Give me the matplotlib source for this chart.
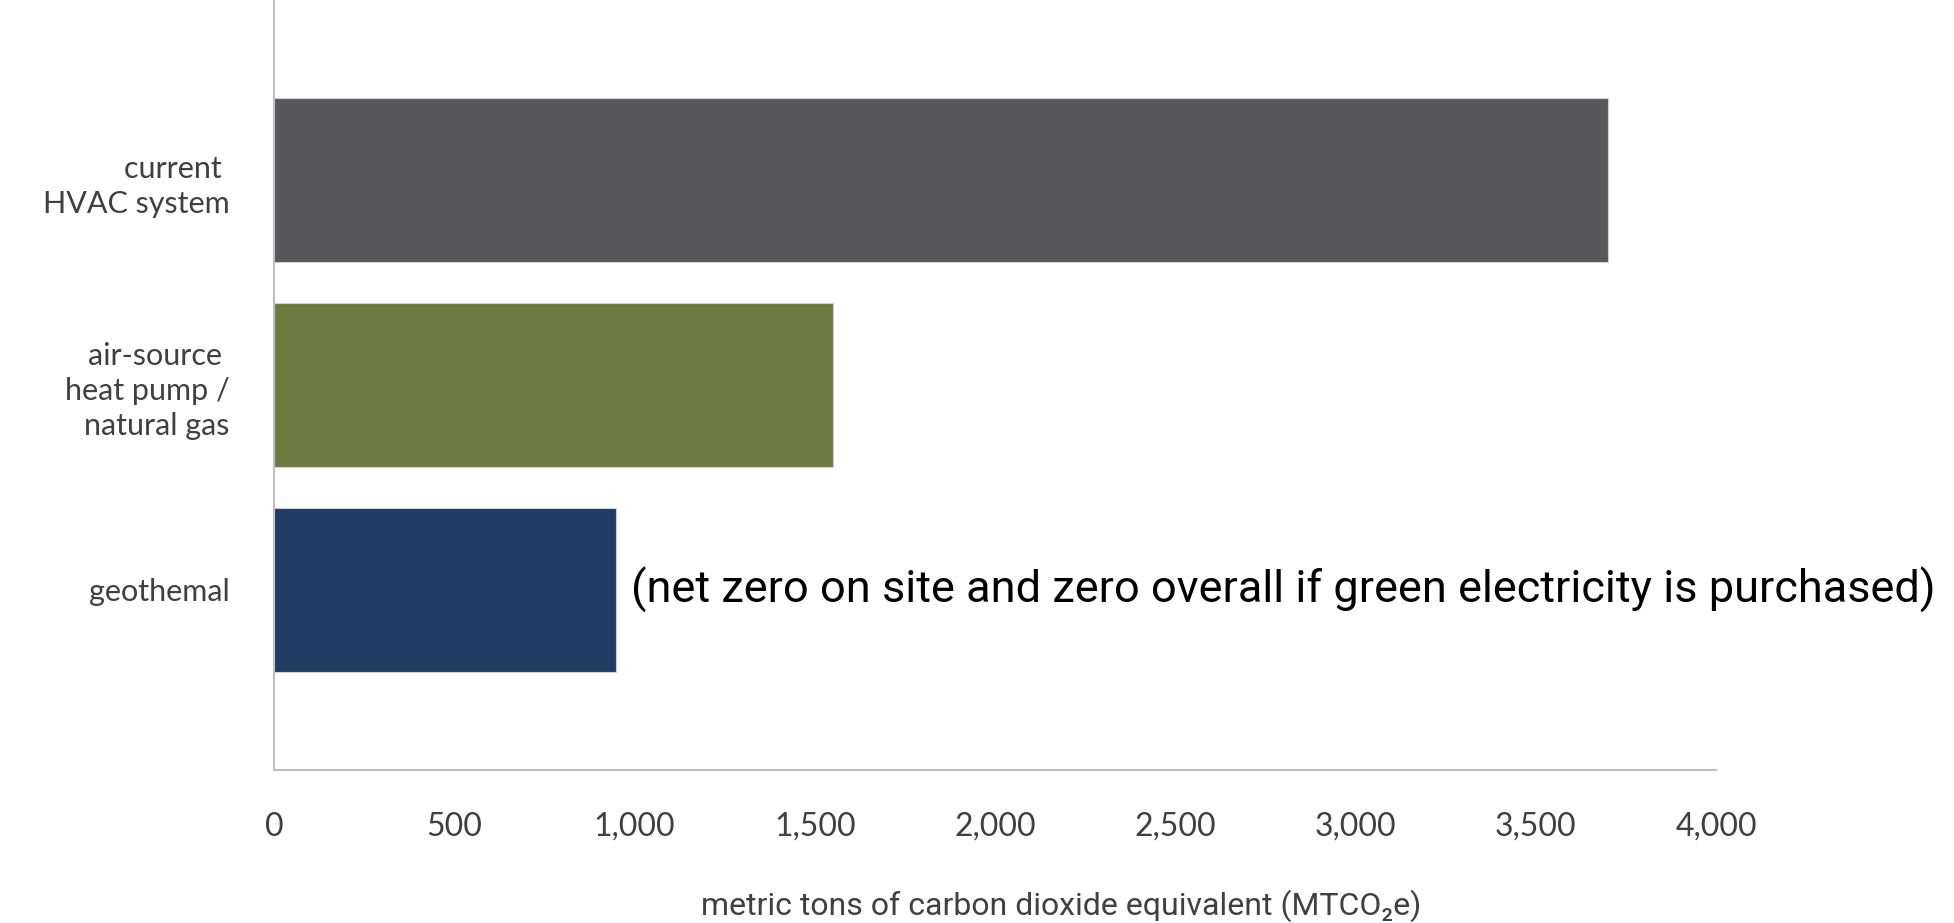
import matplotlib
matplotlib.use("Agg")
import matplotlib.pyplot as plt

# Chart data
categories = ["current \nHVAC system", "air-source \nheat pump /\nnatural gas", "geothemal"]
values = [3700, 1550, 950]
colors = ["#58585a", "#6f7a40", "#203c62"]
x_ticks = [0, 500, 1000, 1500, 2000, 2500, 3000, 3500, 4000]
x_label = "metric tons of carbon dioxide equivalent (MTCO\u2082e)"
note = "(net zero on site and zero overall if green electricity is purchased)"

plt.rcParams["font.family"] = ["Lato", "DejaVu Sans"]

fig = plt.figure(figsize=(19.54, 9.23), dpi=100)
ax = fig.add_axes([274 / 1954, 1 - 770 / 923, (1716 - 274) / 1954, 770 / 923])

ypos = list(range(len(categories)))
ax.barh(ypos, values, height=0.8, color=colors, edgecolor="#d0d0d0", linewidth=0.8)

ax.set_xlim(0, 4000)
ax.set_ylim(2.88, -0.88)
ax.set_yticks(ypos)
ax.set_yticklabels(categories, fontsize=22, color="#404040", linespacing=1.3)
ax.set_xticks(x_ticks)
ax.set_xticklabels([f"{t:,}" for t in x_ticks], fontsize=23, color="#404040")
ax.tick_params(axis="both", length=0)
ax.tick_params(axis="x", pad=30)
ax.tick_params(axis="y", pad=32)

for side in ["top", "right"]:
    ax.spines[side].set_visible(False)
for side in ["left", "bottom"]:
    ax.spines[side].set_color("#bfbfbf")
    ax.spines[side].set_linewidth(1.5)

# note next to the geothermal bar
ax.text(values[2] + 40, 2, note, fontsize=32.5, va="center", ha="left", color="black",
        family=["Roboto", "DejaVu Sans"])

fig.text(1061 / 1954, 1 - 906 / 923, x_label, fontsize=23, ha="center", va="center",
         color="#404040", family=["Roboto", "DejaVu Sans"])

fig.savefig("out.png", dpi=100, facecolor="white")
